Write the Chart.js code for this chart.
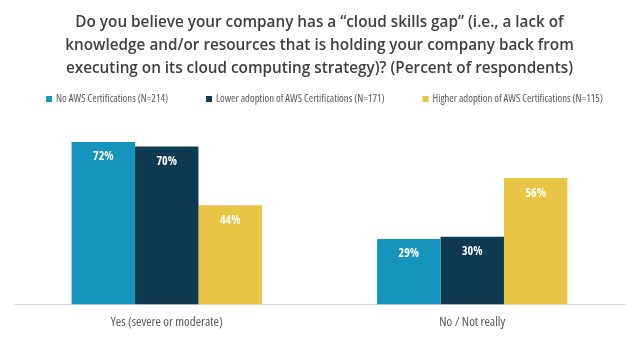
<!DOCTYPE html>
<html>
<head>
<meta charset="utf-8">
<script src="https://cdn.jsdelivr.net/npm/chart.js@4"></script>
<style>
  html, body { margin: 0; padding: 0; background: #fff; }
  #wrap { width: 639px; height: 337px; }
</style>
</head>
<body>
<div id="wrap"><canvas id="surveyChart" width="639" height="337"></canvas></div>
<script>
const categories = ["Yes (severe or moderate)", "No / Not really"];
const seriesNames = [
  "No AWS Certifications (N=214)",
  "Lower adoption of AWS Certifications (N=171)",
  "Higher adoption of AWS Certifications (N=115)"
];
const noCertValues = [72, 29];
const lowerAdoptionValues = [70, 30];
const higherAdoptionValues = [44, 56];
const seriesColors = ['#1695bc', '#0f3b52', '#e8c544'];
const titleLines = [
  "Do you believe your company has a \u201ccloud skills gap\u201d (i.e., a lack of",
  "knowledge and/or resources that is holding your company back from",
  "executing on its cloud computing strategy)? (Percent of respondents)"
];

const sans = "'Open Sans', sans-serif";

// white percent labels inside the top of each bar
const barLabels = {
  id: 'barLabels',
  afterDatasetsDraw(chart) {
    const ctx = chart.ctx;
    ctx.save();
    ctx.fillStyle = '#ffffff';
    ctx.font = 'bold condensed 12px ' + sans;
    ctx.textAlign = 'center';
    ctx.textBaseline = 'middle';
    chart.data.datasets.forEach((ds, i) => {
      chart.getDatasetMeta(i).data.forEach((bar, j) => {
        ctx.fillText(ds.data[j] + '%', bar.x, bar.y + 15);
      });
    });
    ctx.restore();
  }
};

// one-row legend with wide gaps between items (built-in legend ties gap to row height)
const wideLegend = {
  id: 'wideLegend',
  afterDraw(chart) {
    const ctx = chart.ctx;
    const area = chart.chartArea;
    const gap = 38, box = 7, textGap = 3;
    ctx.save();
    ctx.font = 'condensed 10.7px ' + sans;
    ctx.textBaseline = 'middle';
    const widths = chart.data.datasets.map(ds => box + textGap + ctx.measureText(ds.label).width);
    const total = widths.reduce((a, b) => a + b, 0) + gap * (widths.length - 1);
    let x = (area.left + area.right) / 2 + 5 - total / 2;
    const y = area.top - 25;
    chart.data.datasets.forEach((ds, i) => {
      ctx.fillStyle = ds.backgroundColor;
      ctx.fillRect(x, y - 3, box - 1, box - 1);
      ctx.fillStyle = '#595959';
      ctx.fillText(ds.label, x + box + textGap, y);
      x += widths[i] + gap;
    });
    ctx.restore();
  }
};

new Chart(document.getElementById('surveyChart'), {
  type: 'bar',
  data: {
    labels: categories,
    datasets: [
      { label: seriesNames[0], data: noCertValues, backgroundColor: seriesColors[0] },
      { label: seriesNames[1], data: lowerAdoptionValues, backgroundColor: seriesColors[1] },
      { label: seriesNames[2], data: higherAdoptionValues, backgroundColor: seriesColors[2] }
    ]
  },
  options: {
    responsive: false,
    animation: false,
    layout: { padding: { left: 14, right: 14, top: 0, bottom: -3 } },
    datasets: {
      bar: { barPercentage: 1, categoryPercentage: 0.623 }
    },
    scales: {
      x: {
        grid: { display: false, drawTicks: false },
        border: { color: '#d9d9d9', width: 1 },
        ticks: { color: '#595959', font: { family: sans, size: 13, weight: 'condensed' }, padding: 10 }
      },
      y: {
        display: false,
        min: 0,
        max: 80
      }
    },
    plugins: {
      title: {
        display: true,
        text: titleLines,
        color: '#404040',
        font: { family: sans, size: 15.3, weight: '600', lineHeight: 1.503 },
        padding: { top: 11, bottom: 44 }
      },
      legend: { display: false },
      tooltip: { enabled: false }
    }
  },
  plugins: [barLabels, wideLegend]
});
</script>
</body>
</html>
